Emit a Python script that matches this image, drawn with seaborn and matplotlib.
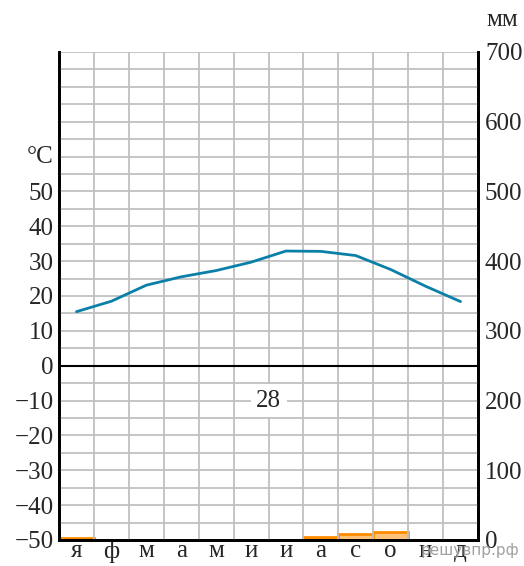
import matplotlib
matplotlib.use("Agg")
import matplotlib.pyplot as plt
import seaborn as sns
import pandas as pd
import numpy as np

months = ["я", "ф", "м", "а", "м", "и", "и", "а", "с", "о", "н", "д"]
temperature = [15.5, 18.5, 23.1, 25.5, 27.3, 29.7, 32.9, 32.8, 31.6, 27.6, 22.8, 18.4]
precipitation = [3, 0, 0, 0, 0, 0, 0, 5, 8, 12, 0, 0]
annual_total = "28"
temp_ticks = [-50, -40, -30, -20, -10, 0, 10, 20, 30, 40, 50]
mm_ticks = [0, 100, 200, 300, 400, 500, 600, 700]

sns.set_theme(style="white")
plt.rcParams["font.family"] = ["Liberation Serif", "DejaVu Serif"]
plt.rcParams["axes.unicode_minus"] = True

df = pd.DataFrame({"pos": np.arange(12), "month": [f"{i}" for i in range(12)],
                   "temp": temperature, "prec": precipitation})

FS = 18
fig = plt.figure(figsize=(5.24, 5.66), dpi=100)
ax = fig.add_axes([59 / 524, 26 / 566, 419 / 524, 488 / 566])
ax.set_xlim(-0.5, 11.5)
ax.set_ylim(-50, 90)

grid_c = "#c0c0c0"
for yv in np.arange(-45, 91, 5):
    ax.axhline(yv, color=grid_c, lw=1.3, zorder=0)
for xv in np.arange(0.5, 11.5, 1):
    ax.axvline(xv, color=grid_c, lw=1.3, zorder=0)
ax.axhline(0, color="black", lw=1.5, zorder=1)

sns.lineplot(data=df, x="pos", y="temp", ax=ax, color="#0a80a8", lw=2, zorder=3)

ax.set_yticks(temp_ticks)
ax.set_yticklabels([str(t).replace("-", "\u2212") for t in temp_ticks], fontsize=FS)
ax.set_xticks(np.arange(12))
ax.set_xticklabels(months, fontsize=FS)
ax.tick_params(axis="y", length=0, pad=4)
ax.tick_params(axis="x", length=0, pad=0)
ax.set_xlabel("")
ax.set_ylabel("")
for s in ["left", "right", "bottom"]:
    ax.spines[s].set_color("black")
    ax.spines[s].set_linewidth(2)
ax.spines["top"].set_visible(False)

ax2 = ax.twinx()
sns.barplot(data=df, x="month", y="prec", ax=ax2, width=1.0,
            color="#ffc27a", edgecolor="#ff8c00", linewidth=2, saturation=1, zorder=2)
ax2.set_xlim(-0.5, 11.5)
ax2.set_ylim(0, 700)
ax2.set_yticks(mm_ticks)
ax2.set_yticklabels([str(t) for t in mm_ticks], fontsize=FS)
ax2.tick_params(axis="y", length=0, pad=5)
ax2.tick_params(axis="x", length=0, labelbottom=False)
ax2.set_xlabel("")
ax2.set_ylabel("")
for s in ["left", "right", "bottom"]:
    ax2.spines[s].set_color("black")
    ax2.spines[s].set_linewidth(2)
ax2.spines["top"].set_visible(False)
ax.set_zorder(ax2.get_zorder() + 1)
ax.patch.set_visible(False)

ax.text(5.5, -10, annual_total, fontsize=FS, ha="center", va="center", zorder=5,
        bbox=dict(facecolor="white", edgecolor="none", pad=4))

fig.text(53 / 524, 1 - 157 / 566, "°C", fontsize=FS, ha="right", va="center")
fig.text(502 / 524, 1 - 20 / 566, "мм", fontsize=FS, ha="center", va="center")
fig.text(470 / 524, 1 - 551 / 566, "решувпр.рф", fontsize=11, ha="center", va="center",
         color="#a0a0a0", family=["DejaVu Sans"])

fig.savefig("out.png", dpi=100)
